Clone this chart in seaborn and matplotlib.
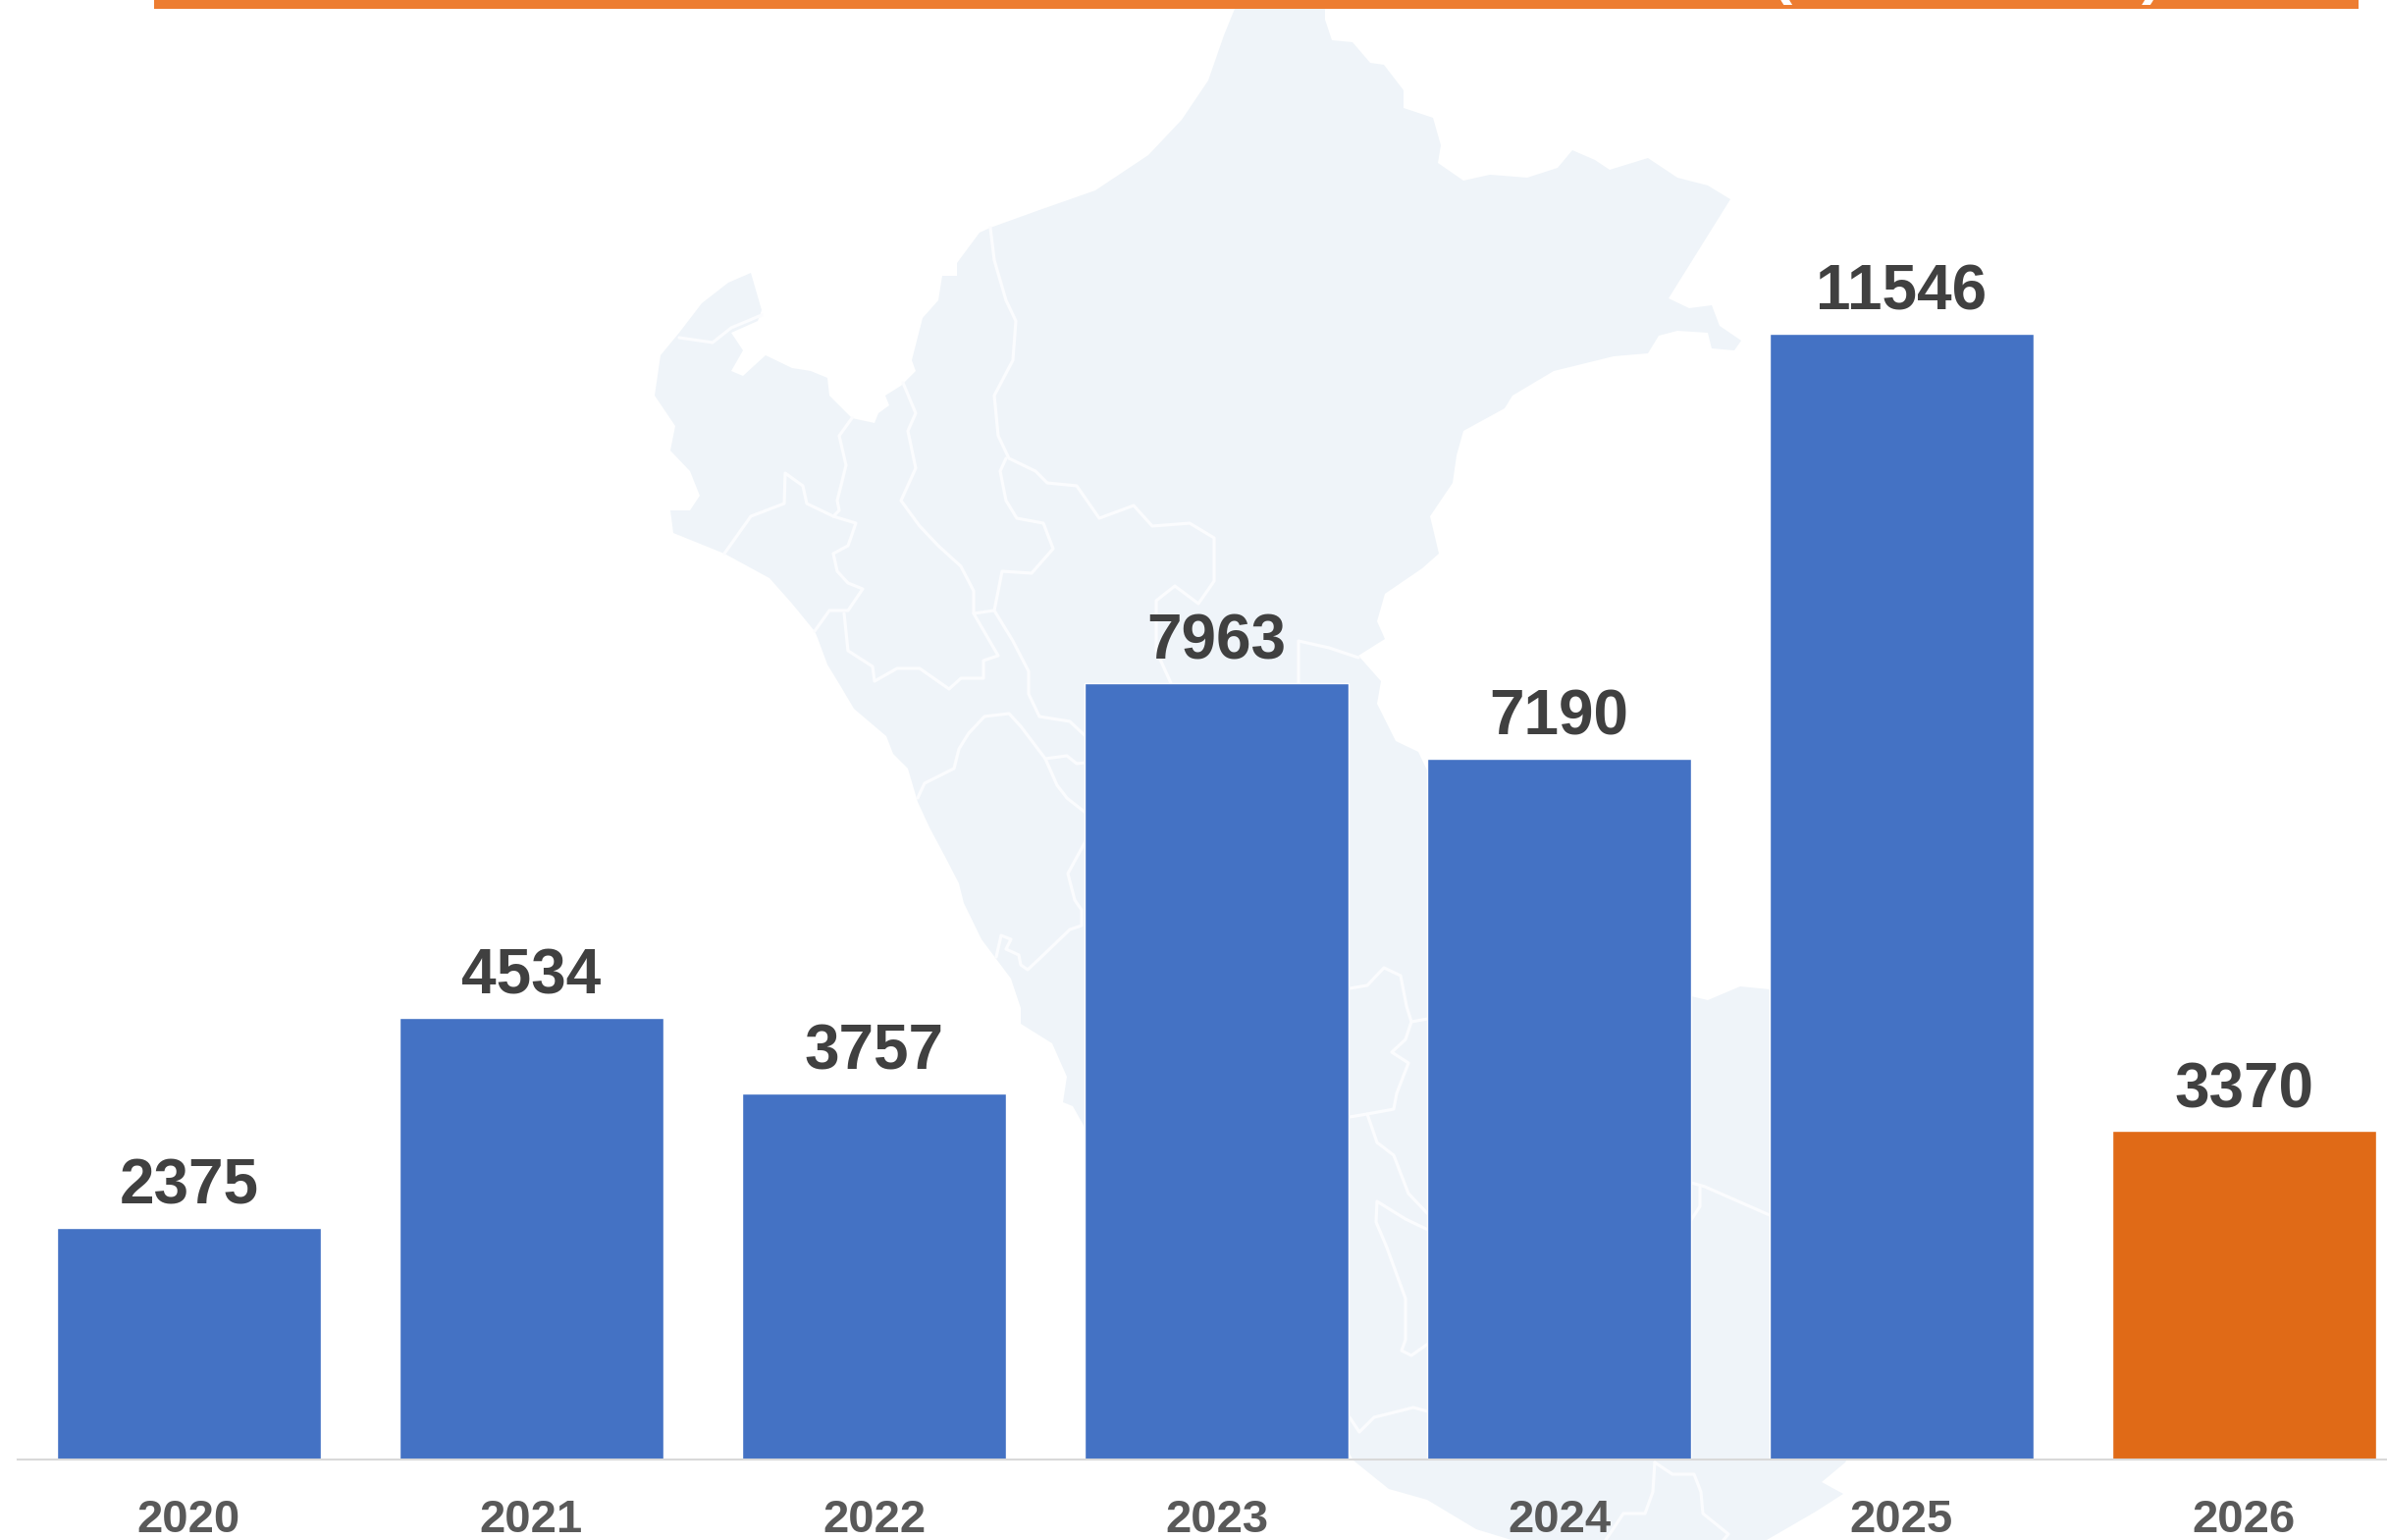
import matplotlib
matplotlib.use("Agg")
import matplotlib.pyplot as plt
import numpy as np
import pandas as pd
import seaborn as sns

years = ["2020", "2021", "2022", "2023", "2024", "2025", "2026"]
values = [2375, 4534, 3757, 7963, 7190, 11546, 3370]
bar_colors = ["#4472C4"] * 6 + ["#E06A17"]

W, H = 2432, 1569
BASE_Y = 1487
PX_PER_UNIT = 1147 / 11546

# background map (pixel coordinates of the full image)
map_outline = [
    (1258, 9), (1350, 9), (1350, 20), (1357, 41), (1378, 43), (1396, 64), (1410, 66), (1430, 92),
    (1430, 110), (1460, 120), (1468, 148), (1465, 166), (1491, 184), (1518, 178), (1556, 181),
    (1587, 171), (1602, 153), (1625, 163), (1640, 173), (1679, 161), (1709, 181), (1740, 189),
    (1763, 203), (1700, 304), (1721, 314), (1744, 311), (1752, 332), (1774, 347), (1767, 357),
    (1744, 355), (1740, 339), (1709, 337), (1690, 342), (1679, 360), (1644, 363), (1583, 378),
    (1541, 403), (1533, 416), (1491, 439), (1484, 464), (1480, 492), (1457, 526), (1466, 564),
    (1449, 579), (1411, 605), (1403, 633), (1411, 651), (1384, 668), (1407, 694), (1403, 717),
    (1422, 755), (1445, 766), (1455, 787), (1600, 950), (1723, 1015), (1740, 1019), (1773, 1005),
    (1803, 1008), (1860, 1060), (1900, 1250), (1900, 1450), (1880, 1490), (1856, 1510),
    (1878, 1522), (1850, 1540), (1800, 1569), (1540, 1569), (1504, 1558), (1454, 1528),
    (1415, 1517), (1379, 1488), (1300, 1350), (1106, 1150), (1093, 1127), (1083, 1123),
    (1087, 1097), (1072, 1063), (1040, 1043), (1040, 1027), (1030, 997), (1000, 957), (982, 920),
    (977, 900), (963, 873), (947, 843), (935, 817), (925, 783), (910, 768), (903, 750), (870, 722),
    (857, 700), (843, 677), (833, 650), (830, 643), (807, 615), (784, 589), (738, 564), (686, 543),
    (683, 520), (703, 520), (713, 505), (703, 480), (683, 459), (688, 434), (667, 403), (673, 362),
    (692, 339), (715, 309), (742, 288), (765, 278), (776, 316), (772, 327), (745, 339), (757, 357),
    (745, 378), (757, 383), (780, 362), (807, 375), (826, 378), (843, 385), (845, 403), (868, 426),
    (891, 431), (895, 421), (906, 413), (902, 403), (918, 393), (933, 378), (929, 367), (940, 324),
    (956, 306), (960, 281), (975, 281), (975, 268), (998, 237), (1009, 232), (1059, 214),
    (1116, 194), (1170, 158), (1204, 122), (1231, 82), (1247, 36), (1258, 9),
]

map_borders = [
    [(1009, 232), (1013, 265), (1025, 306), (1035, 327), (1032, 367), (1013, 403), (1017, 444),
     (1028, 467), (1055, 480), (1067, 492), (1097, 495), (1120, 528), (1155, 515), (1174, 536),
     (1212, 533), (1237, 548), (1237, 592), (1221, 615), (1197, 597), (1178, 612), (1178, 663),
     (1193, 696)],
    [(1025, 467), (1019, 480), (1025, 510), (1036, 528), (1063, 533), (1073, 559), (1051, 584),
     (1021, 582), (1013, 622), (992, 625), (992, 602), (979, 577), (956, 556), (937, 536),
     (918, 510), (933, 477), (925, 439), (933, 421), (920, 390)],
    [(868, 426), (855, 444), (862, 474), (853, 510), (855, 520), (849, 526), (872, 533),
     (864, 556), (849, 564), (853, 582), (864, 594), (879, 600), (864, 622), (845, 622), (830, 643)],
    [(849, 526), (822, 513), (818, 495), (800, 482), (799, 513), (765, 526), (738, 564)],
    [(692, 344), (726, 349), (745, 334), (776, 321)],
    [(1013, 622), (1032, 653), (1048, 684), (1048, 707), (1059, 730), (1090, 735), (1106, 750)],
    [(992, 625), (1017, 668), (1002, 673), (1002, 691), (979, 691), (967, 702), (937, 681),
     (914, 681), (891, 694), (889, 679), (864, 663), (860, 625)],
    [(935, 813), (942, 798), (972, 783), (977, 763), (987, 747), (1003, 730), (1028, 727),
     (1040, 740), (1065, 773), (1077, 800), (1087, 813), (1106, 828)],
    [(1065, 773), (1087, 770), (1097, 778), (1106, 777)],
    [(1106, 857), (1088, 890), (1095, 917), (1102, 927), (1102, 943), (1090, 947), (1063, 973),
     (1047, 988), (1040, 983), (1038, 973), (1025, 967), (1030, 957), (1020, 953), (1015, 975)],
    [(1323, 696), (1323, 653), (1354, 660), (1384, 670)],
    [(1375, 1007), (1393, 1004), (1410, 986), (1427, 994), (1433, 1025), (1438, 1041), (1455, 1038)],
    [(1438, 1041), (1432, 1059), (1418, 1072), (1435, 1083), (1423, 1114), (1420, 1130),
     (1393, 1135), (1375, 1138)],
    [(1393, 1135), (1403, 1164), (1420, 1177), (1435, 1216), (1455, 1237)],
    [(1455, 1253), (1432, 1242), (1403, 1224), (1402, 1245), (1413, 1271), (1432, 1323),
     (1432, 1365), (1428, 1376), (1438, 1381), (1455, 1369)],
    [(1375, 1444), (1385, 1459), (1400, 1444), (1440, 1434), (1455, 1438)],
    [(1723, 1205), (1737, 1209), (1803, 1238)],
    [(1732, 1210), (1732, 1229), (1723, 1243)],
    [(1686, 1490), (1684, 1520), (1676, 1542), (1654, 1542), (1636, 1569)],
    [(1686, 1490), (1704, 1502), (1726, 1502), (1733, 1520), (1735, 1542), (1761, 1563), (1756, 1569)],
]

sns.set_theme(style="white")
plt.rcParams["font.family"] = ["Liberation Sans", "DejaVu Sans"]

fig = plt.figure(figsize=(W / 100, H / 100), dpi=100, facecolor="white")

bg = fig.add_axes([0, 0, 1, 1])
bg.set_xlim(0, W)
bg.set_ylim(H, 0)
bg.axis("off")
bg.fill(*zip(*map_outline), color="#EFF4F9", lw=0)
for border in map_borders:
    bg.plot(*zip(*border), color="#FBFCFE", lw=2.3, solid_joinstyle="round")

# orange header strip, only the bottom of the cut-off title shows
bg.fill_between([157, 2403], 0, 9, color="#ED7D31", lw=0)
bg.text(1815, -8, "(", color="white", fontsize=46, fontweight="bold", ha="center", va="baseline")
bg.text(2193, -8, ")", color="white", fontsize=46, fontweight="bold", ha="center", va="baseline")

pitch = 349.0
left = 18.0
ax = fig.add_axes([left / W, 1 - BASE_Y / H, 7 * pitch / W, BASE_Y / H])
ax.patch.set_alpha(0)

df = pd.DataFrame({"year": years, "value": values})
sns.barplot(data=df, x="year", y="value", hue="year", palette=bar_colors, legend=False,
            width=0.772, saturation=1, ax=ax)
ax.set_xlim(-0.5, 6.5)
ax.set_ylim(0, BASE_Y / PX_PER_UNIT)
for bars in ax.containers:
    ax.bar_label(bars, fontsize=46, fontweight="bold", color="#404040", padding=8)

ax.set_xlabel("")
ax.set_ylabel("")
ax.set_yticks([])
ax.tick_params(axis="x", length=0, pad=29, labelsize=34, labelcolor="#595959")
for lab in ax.get_xticklabels():
    lab.set_fontweight("bold")
sns.despine(ax=ax, left=True)
ax.spines["bottom"].set_color("#D9D9D9")
ax.spines["bottom"].set_linewidth(1.5)

fig.savefig("out.png", dpi=100)
